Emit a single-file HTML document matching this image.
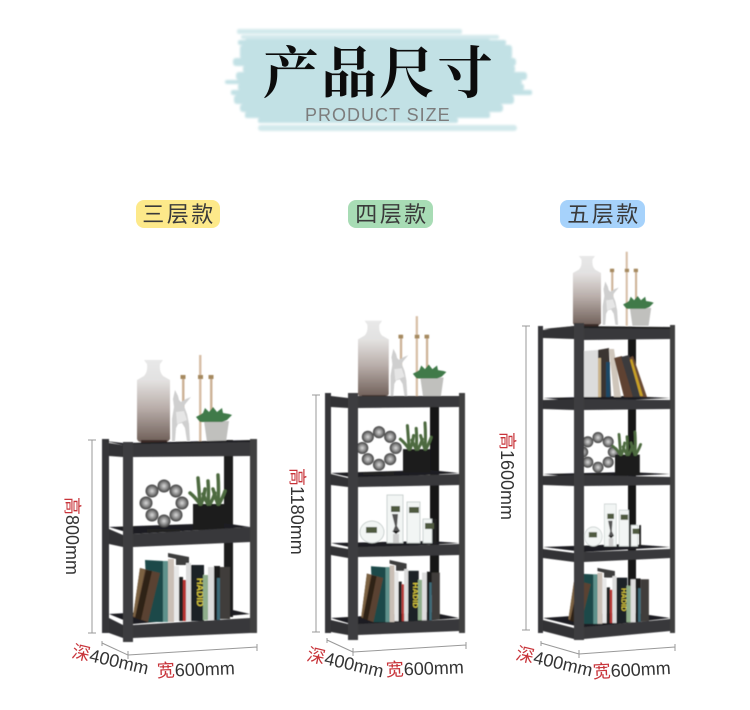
<!DOCTYPE html>
<html><head><meta charset="utf-8"><style>
html,body{margin:0;padding:0;background:#fff}
svg{display:block}
.d{font-size:18px;fill:#333;font-family:"Liberation Sans","Noto Sans CJK SC",sans-serif}
.r{fill:#c8343a}
.p{font-size:22px;letter-spacing:2.500px;fill:#3a3a3a;font-family:"Liberation Sans","Noto Sans CJK SC",sans-serif;text-anchor:middle}
.dim{stroke:#999;stroke-width:1;fill:none}
</style></head><body>
<svg width="750" height="710" viewBox="0 0 750 710" xmlns="http://www.w3.org/2000/svg">
<defs>
<linearGradient id="v" x1="0" y1="0" x2="0" y2="1"><stop offset="0" stop-color="#e4e2e1"/><stop offset=".45" stop-color="#b9aeaa"/><stop offset="1" stop-color="#6f5f58"/></linearGradient>
<linearGradient id="n" x1="0" y1="0" x2="0" y2="1"><stop offset="0" stop-color="#e8e8e8"/><stop offset="1" stop-color="#cfcdcc"/></linearGradient>
<radialGradient id="b" cx=".5" cy=".5" r=".55"><stop offset="0" stop-color="#d8d8d8"/><stop offset=".5" stop-color="#8a8a8a"/><stop offset="1" stop-color="#2a2a2a"/></radialGradient>
<filter id="s" x="-5%" y="-5%" width="110%" height="110%"><feGaussianBlur stdDeviation=".45"/></filter>
<filter id="br" x="-5%" y="-10%" width="110%" height="120%"><feGaussianBlur stdDeviation="1"/></filter>
<g id="top">
<rect x="182" y="375" width="2.500" height="42" fill="#cdb398"/><rect x="180.500" y="375" width="5" height="4" fill="#a68a60"/>
<rect x="199" y="355" width="2.500" height="87" fill="#d8c0a8"/><rect x="198" y="375" width="5" height="4" fill="#a68a60"/>
<rect x="210" y="375" width="2.500" height="46" fill="#cdb398"/><rect x="208.500" y="375" width="5" height="4" fill="#a68a60"/>
<path d="M144 360h19l-3 4q-1 8 3 12l7 4v59q-16 4-33 0v-59l7-4q4-4 3-12z" fill="url(#n)"/>
<path d="M137 380h33v59q-2 3-4 3h-25q-3 0-4-3z" fill="url(#v)"/>
<rect x="141" y="440" width="26" height="3" fill="#3a2c25"/>
<path d="M175 390l3 6 1 4 2 2 5-3 5-2-5 6-2 3 3 8 2 10 1 17-3 0-2-13-3-5-4 1-2 4-1 13-3 0 0-22 2-12-1-8z" fill="#cfcfcf"/>
<path d="M176 412l8-1 3 9-10 4z" fill="#e6e6e6"/>
<path d="M204 421h25l-3 21h-19z" fill="#c0c0bd"/>
<path d="M196 417l7-4 2-5 4 4 4-5 4 5 5-4 1 5 6 1 3 1-5 5-5 2h-22z" fill="#3f7a4a"/>
</g>
<g id="ring">
<g fill="url(#b)">
<circle cx="0" cy="-17" r="6.500"/><circle cx="12" cy="-12" r="6.500"/><circle cx="18" cy="0" r="6.500"/><circle cx="12" cy="12" r="6.500"/><circle cx="0" cy="18" r="6.500"/><circle cx="-12" cy="12" r="6.500"/><circle cx="-18" cy="0" r="6.500"/><circle cx="-12" cy="-12" r="6.500"/>
</g>
<rect x="-17" y="26" width="33" height="3" fill="#222"/>
</g>
<g id="plant">
<path d="M0 29h31v26H0z" fill="#1e1e1f"/>
<g fill="none" stroke="#4d6b3f" stroke-width="3.500" stroke-linecap="round">
<path d="M7 29Q6 15 5 3"/><path d="M7 29Q2 22-3 18"/><path d="M8 29Q11 22 12 14"/><path d="M15 29Q16 18 15 6"/><path d="M15 29Q12 24 10 19"/><path d="M17 29Q20 24 22 18"/><path d="M25 29Q26 15 25 0"/><path d="M25 29Q22 22 20 14"/><path d="M26 29Q30 22 32 16"/>
</g>
</g>
<g id="books">
<path d="M145 560l18 1 10 0v61h-25z" fill="#1c4a48"/><rect x="163" y="561" width="5" height="61" fill="#5f928c"/><rect x="168" y="559" width="6" height="63" fill="#cabfb6"/>
<path d="M140 568l20 5-12 49-15-5z" fill="#5a4330"/><path d="M146 570l6 1-11 49-6-2z" fill="#2f2018"/><path d="M140 568l5 2-10 47-2-1z" fill="#7b6243"/>
<path d="M168 553l21 4v8h-13v-6l-8-2z" fill="#3c3c3e"/><rect x="174" y="566" width="5" height="55" fill="#e8e8e8"/><rect x="179" y="577" width="4" height="44" fill="#222"/><rect x="183" y="580" width="3" height="41" fill="#b83530"/><rect x="186" y="563" width="5" height="58" fill="#dcdcdc"/>
<rect x="191" y="565" width="13" height="56" fill="#1e2426"/><text x="0" y="0" transform="translate(197 578) rotate(90)" font-family="Liberation Sans" font-weight="700" font-size="9" fill="#d9c93a">HADID</text>
<rect x="203" y="575" width="6" height="45" fill="#8fae8b"/><rect x="208" y="567" width="6" height="53" fill="#ddd"/><rect x="214" y="566" width="6" height="54" fill="#1d1d1e"/><rect x="220" y="567" width="10" height="52" fill="#403d3a"/>
<rect x="217" y="578" width="3" height="42" fill="#3c6a78"/>
</g>
<g id="glass">
<g fill="#f2f5f4" stroke="#b9c2c0" stroke-width=".7">
<ellipse cx="372" cy="532" rx="12" ry="11"/><rect x="387" y="495" width="16" height="48"/><rect x="407" y="502" width="13" height="41"/><rect x="423" y="519" width="9" height="24"/>
</g>
<g fill="#4f5a3f"><rect x="366" y="527" width="11" height="6"/><rect x="391" y="506" width="9" height="6"/><rect x="409" y="507" width="10" height="6"/><rect x="425" y="523" width="10" height="6"/></g>
<path d="M392 514h6l-1 12 3 5-7 0 2-5z" fill="#555"/><path d="M392 531h8l-4 3z" fill="#111"/>
<rect x="393" y="534" width="6" height="9" fill="#ccc"/><rect x="434" y="519" width="2.500" height="25" fill="#222"/>
</g>
</defs>

<!-- header brush -->
<g fill="#c2e1e5" filter="url(#br)">
<rect x="237" y="29" width="225" height="5" rx="2" fill="#d3e9ec"/>
<rect x="241" y="35" width="258" height="4" rx="2" fill="#d3e9ec"/>
<rect x="245" y="39" width="245" height="7" rx="2"/>
<rect x="238" y="40" width="268" height="5" rx="2"/>
<rect x="240" y="45" width="272" height="14" rx="3"/>
<rect x="233" y="58" width="283" height="8" rx="3"/>
<rect x="243" y="66" width="272" height="6" rx="2"/>
<rect x="236" y="72" width="291" height="8" rx="3"/>
<rect x="225" y="80" width="297" height="4" rx="2"/>
<rect x="238" y="84" width="286" height="6" rx="2"/>
<rect x="231" y="90" width="301" height="5" rx="2"/>
<rect x="234" y="95" width="280" height="9" rx="3"/>
<rect x="240" y="104" width="263" height="8" rx="3"/>
<rect x="245" y="112" width="245" height="6" rx="2"/>
<rect x="258" y="118" width="200" height="5" rx="2"/>
<rect x="258" y="125" width="259" height="6" rx="3" fill="#d3e9ec"/>
</g>
<text x="263" y="93" font-family="'Noto Serif CJK SC',serif" font-weight="700" font-size="56" letter-spacing="2" fill="#0c0c0c">产品尺寸</text>
<text x="305" y="121" font-family="'Liberation Sans',sans-serif" font-size="18" letter-spacing="1" fill="#7c7c7c">PRODUCT SIZE</text>

<!-- pills -->
<rect x="136" y="200" width="84" height="28" rx="8" fill="#fde98a"/>
<text class="p" x="179" y="222">三层款</text>
<rect x="348" y="200" width="85" height="28" rx="8" fill="#a8dcb5"/>
<text class="p" x="392" y="222">四层款</text>
<rect x="560" y="200" width="85" height="28" rx="8" fill="#a6d2fb"/>
<text class="p" x="604" y="222">五层款</text>

<!-- shelf 1 -->
<g filter="url(#s)">
<rect x="224" y="440" width="9" height="177" fill="#1a1a1b"/>
<use href="#top"/>
<polygon points="109,527 224,523 250,527 133,534" fill="#1f1f20"/>
<polygon points="109,614 224,608 250,614 133,624" fill="#1f1f20"/>
<use href="#ring" transform="translate(164,503)"/>
<use href="#plant" transform="translate(193,475)"/>
<use href="#books"/>
<rect x="102" y="439" width="7" height="194" fill="#363638"/>
<rect x="250" y="439" width="7" height="194" fill="#3f3f41"/>
<polygon points="105,441 123,443 250,440 250,443 123,445" fill="#1f1f20"/>
<polygon points="109,443 123,445 123,457 109,456" fill="#333335"/>
<polygon points="133,444 250,442 250,456 133,457" fill="#37373a"/>
<polygon points="109,529 123,535 123,547 109,544" fill="#333335"/>
<polygon points="133,534 250,527 250,542 133,547" fill="#37373a"/>
<polygon points="109,618 123,625 123,638 109,633" fill="#333335"/>
<polygon points="133,625 250,618 250,633 133,638" fill="#37373a"/>
<rect x="123" y="442" width="10" height="200" fill="#3d3d3f"/>
</g>
<path class="dim" d="M92 440V633M88 440h8M88 633h8M102 641v5M102 643L128 655M128 651v8M128 655L257 647M257 644v7"/>
<text class="d" transform="translate(66,497) rotate(90)"><tspan class="r">高</tspan>800mm</text>
<text class="d" transform="translate(71,657) rotate(13)"><tspan class="r">深</tspan>400mm</text>
<text class="d" transform="translate(157,677) rotate(-2)"><tspan class="r">宽</tspan>600mm</text>

<!-- shelf 2 -->
<g filter="url(#s)">
<rect x="430" y="405" width="9" height="190" fill="#141415"/>
<use href="#top" transform="translate(230.600,-14) scale(.93)"/>
<polygon points="331,473 430,470 459,473 358,479" fill="#1f1f20"/>
<polygon points="331,543 430,541 459,543 358,549" fill="#1f1f20"/>
<polygon points="331,618 430,612 459,618 358,626" fill="#1f1f20"/>
<use href="#ring" transform="translate(379,448) scale(.93)"/>
<use href="#plant" transform="translate(403,423) scale(.88,.9)"/>
<use href="#glass"/>
<use href="#books" transform="translate(253.500,62.300) scale(.81,.9)"/>
<rect x="325" y="393" width="6" height="240" fill="#363638"/>
<rect x="459" y="393" width="6" height="240" fill="#3f3f41"/>
<polygon points="331,396 348,398 348,408 331,407" fill="#333335"/>
<polygon points="358,396 459,396 459,407 358,408" fill="#37373a"/>
<polygon points="331,474 348,478 348,487 331,485" fill="#333335"/>
<polygon points="358,477 459,474 459,485 358,487" fill="#37373a"/>
<polygon points="331,546 348,549 348,558 331,555" fill="#333335"/>
<polygon points="358,547 459,544 459,555 358,557" fill="#37373a"/>
<polygon points="331,620 348,624 348,635 331,632" fill="#333335"/>
<polygon points="358,624 459,619 459,631 358,635" fill="#37373a"/>
<rect x="348" y="393" width="10" height="247" fill="#3d3d3f"/>
</g>
<path class="dim" d="M316 395V632M312 395h8M312 632h8M327 638v5M327 640L353 652M353 648v8M353 652L466 645M466 642v7"/>
<text class="d" transform="translate(291,468) rotate(90)"><tspan class="r">高</tspan>1180mm</text>
<text class="d" transform="translate(306,660) rotate(13)"><tspan class="r">深</tspan>400mm</text>
<text class="d" transform="translate(386,676) rotate(-2)"><tspan class="r">宽</tspan>600mm</text>

<!-- shelf 3 -->
<g filter="url(#s)">
<rect x="628" y="338" width="8" height="250" fill="#141415"/>
<use href="#top" transform="translate(456.500,-50) scale(.85)"/>
<polygon points="543,398 628,396 670,398 584,402" fill="#1f1f20"/>
<polygon points="543,474 628,472 670,474 584,478" fill="#1f1f20"/>
<polygon points="543,547 628,544 670,547 584,552" fill="#1f1f20"/>
<polygon points="543,618 628,612 670,618 584,628" fill="#1f1f20"/>
<use href="#ring" transform="translate(598,452) scale(.85)"/>
<use href="#plant" transform="translate(615,432) scale(.8,.78)"/>
<use href="#glass" transform="translate(318,68.400) scale(.74,.88)"/>
<path d="M584 351l14-1v47h-14z" fill="#dcdcdc"/>
<path d="M598 350l11-2 2 49h-13z" fill="#3a3632"/><rect x="598" y="358" width="3" height="39" fill="#c9b38a"/><rect x="606" y="362" width="4" height="35" fill="#1f4a66"/>
<path d="M609 349l5 0 7 48h-7z" fill="#cfc6bb"/>
<path d="M614 358l8-2 11 41h-9z" fill="#5f4330"/><path d="M621 357l8-2 12 42h-8z" fill="#3a3b3d"/><path d="M629 358l4-2 14 41h-6z" fill="#6a4b36"/><path d="M630 360l2-1 11 37h-3z" fill="#c9a226"/>
<use href="#books" transform="translate(458,120) scale(.83,.81)"/>
<rect x="538" y="326" width="5" height="307" fill="#363638"/>
<rect x="670" y="325" width="5" height="308" fill="#3f3f41"/>
<polygon points="543,329 574,326 670,327 670,329 574,330" fill="#222223"/>
<polygon points="543,330 574,326 574,339 543,338" fill="#333335"/>
<polygon points="584,328 670,329 670,339 584,340" fill="#37373a"/>
<polygon points="543,400 574,399 574,410 543,409" fill="#333335"/>
<polygon points="584,399 670,400 670,409 584,410" fill="#37373a"/>
<polygon points="543,476 574,475 574,486 543,485" fill="#333335"/>
<polygon points="584,475 670,477 670,485 584,486" fill="#37373a"/>
<polygon points="543,549 574,553 574,562 543,558" fill="#333335"/>
<polygon points="584,552 670,549 670,558 584,562" fill="#37373a"/>
<polygon points="543,620 574,628 574,639 543,631" fill="#333335"/>
<polygon points="584,627 670,619 670,631 584,639" fill="#37373a"/>
<rect x="574" y="323" width="10" height="317" fill="#3d3d3f"/>
</g>
<path class="dim" d="M526 326V630M522 326h8M522 630h8M541 641v5M541 643L579 654M579 650v8M579 654L675 647M675 644v7"/>
<text class="d" transform="translate(501,432) rotate(90)"><tspan class="r">高</tspan>1600mm</text>
<text class="d" transform="translate(515,659) rotate(13)"><tspan class="r">深</tspan>400mm</text>
<text class="d" transform="translate(593,678) rotate(-3)"><tspan class="r">宽</tspan>600mm</text>
</svg>
</body></html>
